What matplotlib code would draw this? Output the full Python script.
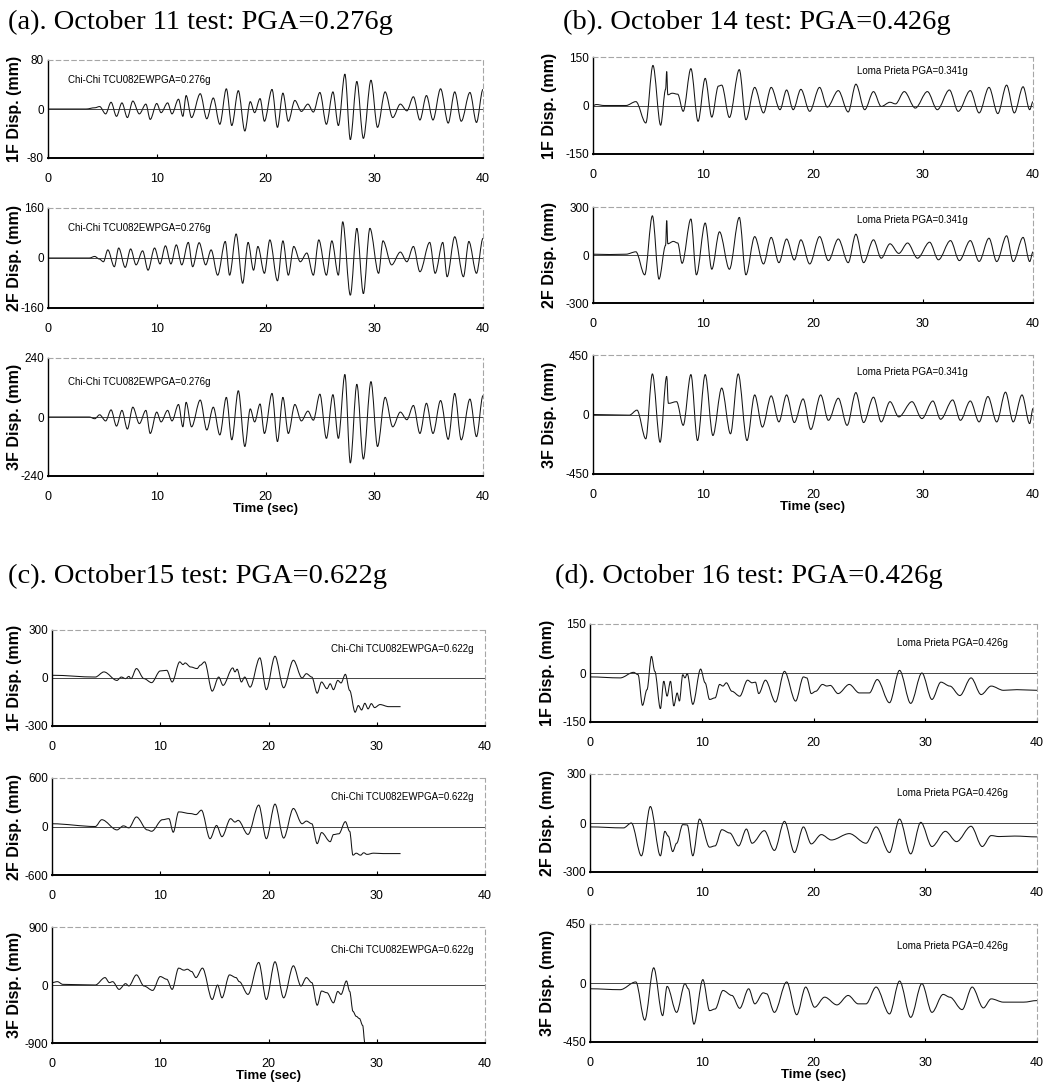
import matplotlib
matplotlib.use("Agg")
import matplotlib.pyplot as plt
from matplotlib.path import Path
from matplotlib.patches import PathPatch

# ---------------- data (time [s], displacement [mm]) ----------------
# (a) October 11 test
a1_t = [0, 3.5, 4.3, 4.75, 5.3, 5.8, 6.3, 6.8, 7.3, 7.8, 8.4, 9.0, 9.4, 10.0, 10.4, 11.0, 11.4, 12.0, 12.4, 12.7,
        13.2, 14.0, 14.6, 15.2, 15.8, 16.4, 16.9, 17.5, 18.1, 18.6, 19.0, 19.5, 19.9, 20.6, 21.1, 21.6, 22.1, 22.7,
        23.3, 23.9, 24.4, 25.0, 25.6, 26.2, 26.7, 27.3, 27.8, 28.4, 29.0, 29.7, 30.3, 31.0, 31.7, 32.4, 33.0, 33.6,
        34.2, 34.8, 35.4, 36.1, 36.8, 37.4, 38.0, 38.8, 39.4, 40.0]
a1_v = [0, 0, 2, 4, -8, 11, -12, 10, -14, 13, -8, 8, -17, 9, -6, 10, -8, 16, -12, 22,
        -14, 25, -16, 18, -25, 33, -27, 30, -36, 12, -6, 17, -20, 32, -30, 26, -20, 14,
        -4, 8, -5, 27, -25, 28, -27, 57, -50, 45, -48, 47, -30, 28, -14, 8, -3, 20,
        -18, 22, -18, 33, -23, 28, -20, 27, -22, 32]

a2_t = [0, 3.8, 4.3, 4.7, 5.1, 5.5, 6.1, 6.5, 7.1, 7.6, 8.1, 8.7, 9.2, 9.8, 10.3, 10.8, 11.3, 11.8, 12.3, 12.9,
        13.3, 13.9, 14.5, 15.0, 15.6, 16.3, 16.7, 17.3, 17.9, 18.4, 18.9, 19.3, 19.9, 20.4, 21.1, 21.6, 22.1, 22.6,
        23.2, 23.8, 24.4, 24.9, 25.6, 26.1, 26.7, 27.1, 27.8, 28.4, 29.0, 29.6, 30.4, 30.8, 31.6, 32.4, 33.0, 33.6,
        34.2, 35.1, 35.6, 36.3, 36.7, 37.4, 38.2, 38.7, 39.4, 40.0]
a2_v = [0, 0, 5, -3, -12, 26, -28, 32, -30, 29, -22, 23, -39, 32, -19, 39, -19, 42, -22, 50,
        -28, 49, -22, 26, -55, 53, -55, 77, -81, 50, -39, 37, -49, 58, -73, 55, -55, 37,
        -12, 16, -55, 58, -55, 55, -55, 116, -119, 95, -114, 95, -49, 55, -22, 19, -12, 37,
        -44, 50, -49, 50, -60, 68, -60, 53, -49, 63]

a3_t = [0, 3.8, 4.3, 4.75, 5.3, 5.8, 6.3, 6.8, 7.3, 7.8, 8.4, 9.0, 9.4, 10.0, 10.4, 11.0, 11.4, 12.0, 12.4, 12.7,
        13.2, 14.0, 14.6, 15.2, 15.8, 16.4, 16.9, 17.5, 18.1, 18.6, 19.0, 19.5, 19.9, 20.6, 21.1, 21.6, 22.1, 22.7,
        23.3, 23.9, 24.4, 25.0, 25.6, 26.2, 26.7, 27.3, 27.8, 28.4, 29.0, 29.7, 30.3, 31.0, 31.7, 32.4, 33.0, 33.6,
        34.2, 34.8, 35.4, 36.1, 36.8, 37.4, 38.0, 38.8, 39.4, 40.0]
a3_v = [0, 0, -7, 9, -16, 29, -37, 27, -49, 40, -27, 27, -67, 20, -20, 27, -16, 51, -40, 60,
        -40, 69, -53, 40, -73, 80, -93, 107, -120, 33, -20, 53, -67, 96, -100, 80, -67, 51,
        -16, 24, -13, 93, -87, 91, -87, 173, -187, 133, -171, 144, -120, 80, -40, 20, -11, 47,
        -67, 56, -67, 67, -91, 96, -93, 73, -80, 87]

# (b) October 14 test
b1_t = [0, 0.3, 1.0, 3.0, 3.9, 4.8, 5.45, 6.15, 6.6, 6.7, 6.8, 7.2, 7.7, 8.2, 8.9, 9.55, 10.2, 10.8, 11.4, 11.7,
        12.4, 13.3, 13.9, 14.7, 15.5, 16.2, 17.0, 17.6, 18.2, 18.9, 19.7, 20.6, 21.3, 22.3, 23.2, 23.9, 24.7, 25.5,
        26.2, 27.0, 27.5, 28.3, 29.3, 30.4, 31.3, 32.4, 33.2, 34.3, 35.1, 36.0, 36.8, 37.6, 38.3, 39.1, 39.7, 40.0]
b1_v = [0, 3, 0, 0, 12, -54, 124, -61, 50, 105, 33, 38, 35, -18, 114, -49, 84, -36, 60, 63,
        -37, 111, -44, 56, -23, 56, -13, 48, -13, 50, -18, 56, -5, 46, -20, 66, -13, 43,
        -3, 10, 5, 43, -8, 43, -13, 48, -18, 46, -23, 56, -25, 63, -23, 58, -13, 12]

b2_t = [0, 1.5, 3.0, 3.9, 4.7, 5.4, 6.0, 6.6, 6.7, 6.8, 7.3, 7.7, 8.1, 8.9, 9.4, 10.2, 10.8, 11.5, 12.4, 13.3,
        13.9, 14.7, 15.5, 16.2, 16.9, 17.6, 18.3, 18.9, 19.7, 20.6, 21.4, 22.3, 23.2, 23.9, 24.6, 25.5, 26.2, 27.0,
        27.8, 28.6, 29.5, 30.6, 31.4, 32.5, 33.3, 34.3, 35.1, 36.0, 36.7, 37.6, 38.2, 39.1, 39.7, 40.0]
b2_v = [5, 3, 5, 20, -124, 245, -151, 60, 215, 70, 85, 75, -52, 225, -124, 200, -89, 145, -89, 235,
        -124, 115, -56, 110, -48, 100, -31, 95, -56, 115, -35, 100, -48, 130, -48, 95, -20, 70,
        10, 75, -20, 80, -30, 90, -35, 90, -40, 105, -41, 120, -41, 110, -41, 20]

b3_t = [0, 3.3, 4.0, 4.8, 5.4, 6.1, 6.7, 6.85, 7.6, 8.2, 8.9, 9.5, 10.2, 10.9, 11.7, 12.5, 13.2, 14.0, 14.7, 15.4,
        16.2, 16.9, 17.6, 18.3, 19.1, 19.8, 20.7, 21.4, 22.3, 23.1, 23.9, 24.6, 25.5, 26.2, 27.0, 27.8, 29.0, 29.9,
        30.9, 31.6, 32.7, 33.4, 34.3, 35.1, 35.9, 36.7, 37.5, 38.2, 39.0, 39.7, 40.0]
b3_v = [0, -5, 33, -184, 307, -210, 289, 84, 97, -82, 302, -197, 302, -159, 200, -146, 307, -197, 148, -95,
        141, -56, 148, -61, 118, -113, 148, -44, 123, -82, 166, -61, 131, -56, 97, -18, 97, -31,
        102, -36, 110, -44, 102, -56, 136, -56, 169, -56, 148, -69, 46]

# (c) October 15 test
c1_t = [0, 4.0, 4.8, 6.0, 6.4, 6.8, 7.1, 7.3, 7.8, 8.5, 9.2, 10.0, 10.6, 11.1, 11.8, 12.1, 12.3, 12.8, 13.4, 13.7,
        14.1, 14.8, 15.4, 15.8, 16.7, 16.9, 17.1, 17.5, 17.8, 18.3, 19.2, 19.8, 20.6, 21.4, 22.3, 23.1, 23.5, 24.0,
        24.5, 24.9, 25.4, 25.7, 26.0, 26.4, 26.7, 27.1, 27.5, 28.0, 28.3, 28.6, 28.9, 29.2, 29.5, 29.8, 30.3, 31.1,
        32.2]
c1_v = [17, 6, 38, -15, 6, -4, 10, -4, 59, -4, -29, 44, 48, -25, 101, 84, 94, 69, 59, 80,
        101, -82, 6, -46, 63, 38, 55, -25, 6, -57, 126, -73, 136, -61, 111, 0, 27, 6,
        -95, -25, -67, -36, -73, -15, -31, 23, -78, -214, -172, -200, -158, -193, -160, -185, -166, -179,
        -179]

c2_t = [0, 4.0, 4.6, 6.0, 6.6, 7.1, 7.8, 8.8, 9.2, 10.2, 10.8, 11.2, 11.7, 12.8, 13.3, 13.8, 14.6, 15.2, 15.7, 16.5,
        16.9, 17.2, 18.1, 19.1, 19.8, 20.6, 21.4, 22.3, 23.1, 23.5, 24.0, 24.5, 24.9, 25.7, 26.0, 26.5, 27.1, 27.5,
        27.8, 28.1, 28.5, 28.8, 29.1, 29.7, 30.6, 32.2]
c2_v = [34, 0, 84, -42, 8, -17, 118, -42, -59, 84, 97, -71, 181, 160, 147, 202, -151, 13, -126, 97,
        55, 76, -98, 265, -151, 277, -143, 223, 34, 67, 34, -212, -75, -188, -100, -90, 60, -60,
        -355, -330, -355, -325, -345, -330, -335, -335]

c3_t = [0, 0.5, 1.0, 4.0, 4.9, 5.3, 5.6, 6.2, 6.8, 7.1, 7.8, 8.5, 9.3, 10.0, 10.6, 11.1, 11.7, 12.2, 12.5, 12.9,
        13.3, 13.9, 14.8, 15.3, 15.7, 16.4, 17.0, 17.3, 18.1, 19.1, 19.8, 20.6, 21.4, 22.3, 23.0, 23.5, 24.0, 24.5,
        24.9, 25.4, 26.0, 26.4, 26.7, 27.2, 27.5, 27.8, 28.1, 28.4, 28.7, 28.9]
c3_v = [37, 52, 10, 0, 115, 37, 52, -68, 21, -15, 157, -16, -84, 131, 89, -68, 262, 230, 245, 209,
        115, 262, -225, 0, -199, 157, 115, 52, -146, 350, -225, 361, -199, 298, -16, 115, 37, -314,
        -94, -120, -277, -100, -146, 63, -100, -408, -486, -520, -628, -900]

# (d) October 16 test
d1_t = [0, 2.7, 3.9, 4.3, 4.7, 5.1, 5.5, 5.8, 6.3, 6.6, 6.9, 7.2, 7.5, 7.8, 8.0, 8.3, 8.5, 8.7, 9.2, 9.9,
        10.3, 10.7, 11.2, 11.6, 11.9, 12.2, 12.7, 13.4, 14.1, 14.5, 14.8, 15.1, 15.7, 16.6, 17.4, 18.4, 19.1, 19.4,
        19.8, 20.2, 20.8, 21.2, 21.5, 22.2, 23.2, 24.1, 25.0, 25.7, 26.8, 27.7, 28.7, 29.7, 30.6, 31.4, 32.2, 33.1,
        34.1, 35.0, 35.9, 37.0, 38.2, 40.0]
d1_v = [-12, -15, 2, -5, -99, -51, 51, 5, -109, -25, -71, -25, -101, -61, -86, -5, -15, -2, -96, 12,
        -30, -81, -76, -35, -40, -30, -56, -71, -22, -30, -28, -63, -22, -89, 5, -86, -12, -15,
        -63, -56, -35, -40, -38, -63, -35, -61, -61, -20, -91, 8, -93, 0, -81, -28, -40, -69,
        -15, -66, -40, -53, -51, -53]

d2_t = [0, 3.0, 3.7, 4.6, 5.4, 6.3, 6.7, 7.0, 7.4, 7.75, 8.3, 8.7, 9.2, 9.8, 10.7, 11.2, 11.8, 12.5, 13.3, 14.0,
        14.5, 15.6, 16.5, 17.4, 18.3, 19.1, 19.8, 20.7, 21.6, 23.2, 24.7, 25.6, 26.8, 27.7, 28.7, 29.6, 30.6, 31.8,
        32.8, 34.1, 35.1, 35.9, 36.6, 38.0, 40.0]
d2_v = [-24, -30, 0, -201, 101, -201, -51, -80, -175, -124, -10, -12, -201, 24, -148, -140, -41, -61, -140, -37,
        -124, -47, -168, 10, -181, -24, -128, -71, -104, -65, -124, -24, -181, 24, -189, 4, -144, -51,
        -114, -20, -144, -77, -83, -80, -85]

d3_t = [0, 2.7, 4.1, 4.9, 5.7, 6.5, 6.9, 7.75, 8.5, 8.8, 9.3, 10.1, 10.7, 11.2, 11.9, 12.7, 13.4, 14.2, 14.75, 15.5,
        15.8, 16.5, 17.6, 18.5, 19.3, 20.1, 21.0, 22.1, 23.1, 24.0, 24.7, 25.6, 26.8, 27.7, 28.7, 29.7, 30.6, 31.6,
        32.2, 33.3, 34.2, 35.2, 35.9, 37.0, 38.8, 40.0]
d3_v = [-44, -51, 8, -283, 116, -249, -26, -224, -5, -44, -314, 26, -211, -198, -57, -95, -193, -44, -159, -75,
        -82, -224, 8, -242, -31, -185, -108, -167, -95, -159, -159, -31, -236, 15, -262, -5, -224, -87,
        -108, -203, -31, -190, -121, -146, -146, -134]

panel_titles = ["(a). October 11 test: PGA=0.276g", "(b). October 14 test: PGA=0.426g",
                "(c). October15 test: PGA=0.622g", "(d). October 16 test: PGA=0.426g"]
panel_notes = ["Chi-Chi TCU082EWPGA=0.276g", "Loma Prieta PGA=0.341g",
               "Chi-Chi TCU082EWPGA=0.622g", "Loma Prieta PGA=0.426g"]
floor_labels = ["1F Disp. (mm)", "2F Disp. (mm)", "3F Disp. (mm)"]
y_limits = [[80, 160, 240], [150, 300, 450], [300, 600, 900], [150, 300, 450]]
x_ticks = [0, 10, 20, 30, 40]
series = [[(a1_t, a1_v), (a2_t, a2_v), (a3_t, a3_v)],
          [(b1_t, b1_v), (b2_t, b2_v), (b3_t, b3_v)],
          [(c1_t, c1_v), (c2_t, c2_v), (c3_t, c3_v)],
          [(d1_t, d1_v), (d2_t, d2_v), (d3_t, d3_v)]]

# ---------------- layout (pixels) ----------------
W, H = 1053, 1088
fig = plt.figure(figsize=(W / 100, H / 100), dpi=100)
plt.rcParams['font.family'] = ['Liberation Sans', 'DejaVu Sans']

x_spans = [(48, 483), (593, 1033), (52, 485), (590, 1037)]
y_spans = [[(60, 158), (208, 308), (358, 476)],
           [(57, 154), (207, 303), (355, 474)],
           [(630, 726), (778, 875), (927, 1043)],
           [(624, 722), (774, 872), (924, 1042)]]
title_pos = [(8, 22), (563, 22), (8, 576), (555, 576)]
note_pos = [(0.045, 0.80), (0.60, 0.86), (0.645, 0.80), (0.687, 0.81)]
ylabel_px = [22, 557, 22, 555]   # right edge of the rotated y label, in pixels


def add_ax(x0, x1, y0, y1):
    return fig.add_axes([x0 / W, 1 - y1 / H, (x1 - x0) / W, (y1 - y0) / H])


def smooth_path(t, v):
    # curve through the read extrema, flat tangent at each read point
    verts = [(t[0], v[0])]
    codes = [Path.MOVETO]
    for i in range(1, len(t)):
        dt = t[i] - t[i - 1]
        verts += [(t[i - 1] + dt / 3, v[i - 1]), (t[i] - dt / 3, v[i]), (t[i], v[i])]
        codes += [Path.CURVE4] * 3
    return Path(verts, codes)


for p in range(4):
    fig.text(title_pos[p][0] / W, 1 - title_pos[p][1] / H, panel_titles[p],
             family=['Liberation Serif', 'DejaVu Serif'], fontsize=20.5, va='center', ha='left')
    for r in range(3):
        x0, x1 = x_spans[p]
        y0, y1 = y_spans[p][r]
        ax = add_ax(x0, x1, y0, y1)
        t, v = series[p][r]
        lim = y_limits[p][r]
        ax.add_patch(PathPatch(smooth_path(t, v), fill=False, lw=0.75, ec='0.08'))
        ax.axhline(0, color='0.15', lw=0.6)
        ax.set_xlim(0, 40)
        ax.set_ylim(-lim, lim)
        ax.set_xticks(x_ticks)
        ax.set_xticklabels([str(x) for x in x_ticks], fontsize=9)
        ax.set_yticks([-lim, 0, lim])
        ax.set_yticklabels([str(-lim), "0", str(lim)], fontsize=8.5)
        ax.tick_params(axis='x', direction='in', length=3, pad=11, width=0.8)
        ax.tick_params(axis='y', length=0, pad=3)
        for s in ['top', 'right']:
            ax.spines[s].set_color('0.65')
            ax.spines[s].set_linestyle((0, (4, 3)))
            ax.spines[s].set_linewidth(0.8)
        ax.spines['left'].set_linewidth(1.0)
        ax.spines['bottom'].set_linewidth(1.4)
        ax.set_ylabel(floor_labels[r], fontsize=11.5, fontweight='bold')
        ax.yaxis.set_label_coords((ylabel_px[p] - x0) / (x1 - x0), 0.5)
        ax.text(note_pos[p][0], note_pos[p][1], panel_notes[p], transform=ax.transAxes,
                fontsize=7, va='center', ha='left')
        if r == 2:
            ax.set_xlabel("Time (sec)", fontsize=9.5, fontweight='bold', labelpad=0)

fig.savefig("out.png", dpi=100)
